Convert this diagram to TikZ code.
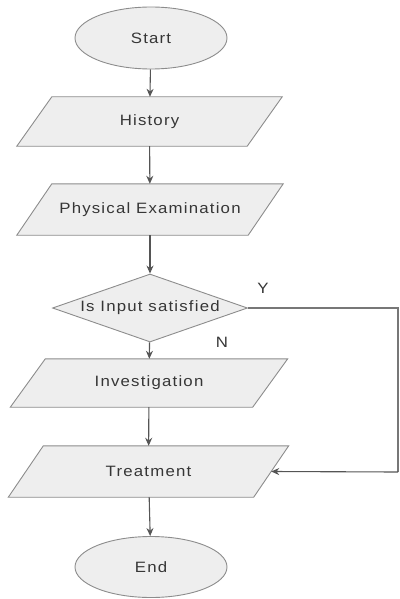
\documentclass[tikz,border=0pt]{standalone}
\usepackage{fontspec}
\setmainfont{Liberation Sans}[FakeStretch=1.12,LetterSpace=8]
\usetikzlibrary{shapes.geometric,arrows.meta,calc,backgrounds}
\definecolor{shapefill}{HTML}{EEEEEE}
\definecolor{shapeline}{HTML}{8C8C8C}
\definecolor{arrowcol}{HTML}{555555}
\definecolor{txtcol}{HTML}{363636}
\tikzset{
  base/.style={draw=shapeline, fill=shapefill, line width=0.9pt, text=txtcol,
    font=\fontsize{15}{18}\selectfont, inner sep=0pt},
  term/.style={base, ellipse, minimum width=152, minimum height=62},
  io/.style={rectangle, text=txtcol, font=\fontsize{15}{18}\selectfont, inner sep=0pt},
  ioshape/.style={draw=shapeline, fill=shapefill, line width=0.9pt, line join=miter},
  decide/.style={base, diamond, aspect=2.87, minimum width=195, minimum height=68},
  flow/.style={draw=arrowcol, line width=1.1pt, -{Stealth[length=8pt,width=7pt]}},
  branch/.style={draw=shapeline!85!black, line width=1.1pt},
  lbl/.style={text=txtcol, font=\fontsize{15}{18}\selectfont, inner sep=0pt}
}
\newcommand{\parashape}[1]{%
  \begin{scope}[on background layer]
    \path[ioshape] (#1.south west) -- ([xshift=-35pt]#1.south east) -- (#1.north east)
      -- ([xshift=35pt]#1.north west) -- cycle;
  \end{scope}}
\begin{document}
\begin{tikzpicture}[x=1pt,y=-1pt]
\useasboundingbox (0,0) rectangle (399,599);
\node[term] (start) at (151,38) {Start};
\node[io, minimum width=265, minimum height=49] (hist) at (149.5,121.5) {History};
\node[io, minimum width=266, minimum height=51] (phys) at (150,209.5) {Physical Examination};
\node[decide] (dec) at (150,308) {Is Input satisfied};
\node[io, minimum width=277, minimum height=48] (inv) at (149,383) {Investigation};
\node[io, minimum width=280, minimum height=51] (treat) at (148.5,471.5) {Treatment};
\node[term, minimum height=61] (end) at (151,567) {End};
\node[lbl] (ylab) at (263,288) {Y};
\node[lbl] (nlab) at (222,342) {N};
\parashape{hist}
\parashape{phys}
\parashape{inv}
\parashape{treat}
\coordinate (c1) at (398,308);
\coordinate (c2) at (398,472);
\coordinate (tin) at ($(treat.north east)!0.5!([xshift=-35pt]treat.south east)$);
\draw[flow] (start) -- (hist);
\draw[flow] (hist) -- (phys);
\draw[flow] (phys) -- (dec);
\draw[flow] (dec) -- (inv);
\draw[flow] (inv) -- (treat);
\draw[flow] (treat) -- (end);
\draw[branch] (dec.east) -- (c1) -- (c2);
\draw[flow] (c2) -- (tin);
\end{tikzpicture}
\end{document}
